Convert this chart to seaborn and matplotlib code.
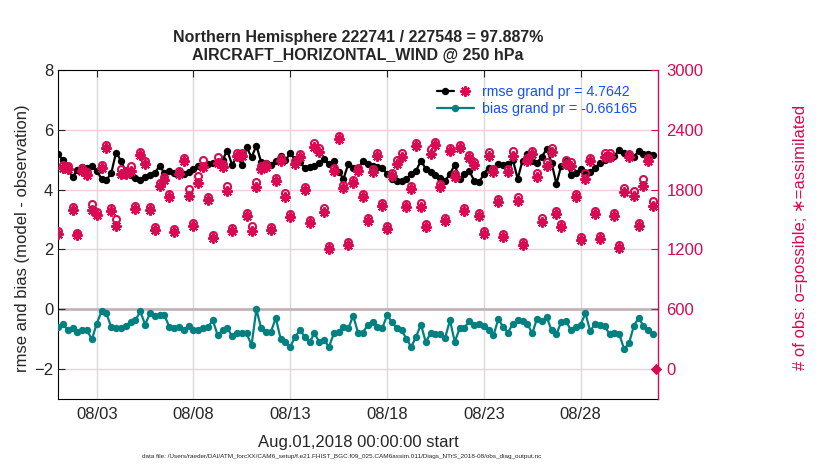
import numpy as np
import pandas as pd
import matplotlib
matplotlib.use('Agg')
import matplotlib.pyplot as plt
import matplotlib.dates as mdates
from matplotlib.lines import Line2D
from matplotlib.legend_handler import HandlerTuple
import seaborn as sns

# -----------------------
# Data (6-hourly bins, Aug 2018)
# -----------------------
start_time = '2018-08-01 00:00'
bin_freq = '6h'

rmse = [5.19, 4.99, 4.75, 4.41, 4.66, 4.75, 4.72, 4.80, 4.63, 4.36,
        4.32, 4.55, 5.24, 4.97, 4.60, 4.50, 4.39, 4.32, 4.43, 4.50,
        4.55, 4.80, 4.55, 4.62, 4.56, 4.60, 4.52, 4.60, 4.70, 4.80,
        4.80, 4.86, 4.88, 4.91, 5.00, 5.30, 4.82, 5.13, 4.83, 5.41,
        5.08, 5.47, 4.91, 4.90, 4.82, 4.97, 5.13, 4.99, 5.21, 5.02,
        4.91, 4.72, 4.76, 4.80, 4.90, 5.02, 4.86, 4.95, 4.60, 4.36,
        4.86, 4.74, 4.69, 4.97, 4.86, 4.80, 4.77, 4.74, 4.52, 4.36,
        4.30, 4.28, 4.36, 4.52, 4.63, 4.97, 4.70, 4.60, 4.50, 4.38,
        4.30, 4.52, 4.83, 4.36, 4.52, 4.63, 4.30, 4.24, 4.52, 4.74,
        4.63, 4.86, 4.83, 4.85, 5.00, 4.36, 4.97, 5.20, 4.95, 4.90,
        5.10, 5.36, 4.90, 4.19, 4.80, 4.95, 4.50, 4.55, 4.70, 4.55,
        4.60, 4.72, 4.90, 5.00, 5.06, 5.13, 5.34, 5.22, 5.16, 5.08,
        5.30, 5.20, 5.19, 5.17]

bias = [-0.59, -0.48, -0.70, -0.64, -0.76, -0.70, -0.70, -1.01, -0.48, -0.07,
        -0.14, -0.59, -0.64, -0.64, -0.56, -0.42, -0.37, -0.07, -0.51, -0.14,
        -0.22, -0.20, -0.20, -0.59, -0.64, -0.59, -0.70, -0.56, -0.70, -0.70,
        -0.62, -0.59, -0.37, -0.87, -0.70, -0.64, -0.90, -0.78, -0.81, -0.81,
        -1.20, 0.00, -0.64, -0.76, -0.76, -0.29, -0.98, -1.09, -1.26, -0.92,
        -0.70, -0.92, -1.09, -0.81, -1.09, -1.03, -1.26, -0.81, -0.76, -0.59,
        -0.64, -0.22, -0.78, -0.78, -0.53, -0.42, -0.59, -0.64, -0.20, -0.42,
        -0.64, -0.70, -0.98, -1.26, -0.92, -0.51, -1.09, -0.81, -0.84, -0.84,
        -0.96, -0.37, -1.09, -0.64, -0.62, -0.40, -0.53, -0.48, -0.56, -0.70,
        -0.87, -0.33, -0.59, -0.78, -0.48, -0.37, -0.40, -0.48, -0.81, -0.31,
        -0.40, -0.26, -0.70, -0.84, -0.42, -0.40, -0.70, -0.59, -0.51, -0.14,
        -0.73, -0.48, -0.53, -0.56, -0.84, -0.81, -0.84, -1.33, -1.14, -0.56,
        -0.29, -0.56, -0.70, -0.84]

n_assimilated = [1360, 2020, 2010, 1600, 1340, 1990, 1950, 1600, 1550, 2020,
                 2220, 1590, 1440, 1960, 1960, 1990, 1610, 2150, 2060, 1600,
                 1400, 1840, 1900, 1730, 1380, 1960, 2090, 1740, 1440, 1870,
                 2030, 1697, 1313, 2070, 2023, 1790, 1390, 2140, 2140, 1540,
                 1390, 1823, 2010, 2023, 1400, 1890, 2090, 1723, 1523, 2057,
                 2123, 1800, 1467, 2223, 2173, 1573, 1207, 1990, 2307, 1813,
                 1247, 1863, 1990, 1723, 1490, 1973, 2140, 1640, 1407, 1940,
                 2057, 2123, 1623, 1807, 2240, 1623, 1423, 2157, 2245, 1830,
                 1490, 2185, 1930, 2220, 1590, 2117, 2050, 1533, 1357, 2140,
                 1973, 1673, 1323, 1973, 2140, 1690, 1240, 2090, 2157, 1923,
                 1473, 2040, 2173, 1557, 1423, 2057, 2040, 1730, 1290, 1907,
                 2090, 1557, 1307, 2123, 2123, 1540, 1217, 1773, 2123, 1740,
                 1440, 1840, 2090, 1640]

n_possible = [1390, 2050, 2040, 1630, 1370, 2020, 1980, 1660, 1580, 2050,
              2250, 1620, 1510, 2010, 1990, 2040, 1640, 2180, 2090, 1630,
              1430, 1870, 1930, 1760, 1410, 1990, 2120, 1810, 1470, 1940,
              2100, 1727, 1343, 2130, 2053, 1840, 1420, 2170, 2170, 1570,
              1440, 1873, 2040, 2053, 1430, 1920, 2120, 1763, 1553, 2087,
              2153, 1830, 1497, 2263, 2213, 1613, 1237, 2020, 2337, 1843,
              1277, 1893, 2020, 1753, 1520, 2003, 2170, 1670, 1437, 1970,
              2097, 2163, 1653, 1837, 2270, 1663, 1453, 2207, 2275, 1860,
              1520, 2215, 1960, 2250, 1620, 2147, 2080, 1563, 1387, 2180,
              2003, 1703, 1353, 2003, 2190, 1730, 1270, 2120, 2187, 1963,
              1513, 2080, 2218, 1587, 1453, 2097, 2080, 1760, 1320, 1967,
              2120, 1587, 1337, 2163, 2163, 1570, 1247, 1813, 2153, 1790,
              1470, 1910, 2120, 1690]

# lone marker sitting on the right axis at zero obs
zero_time = ['2018-08-31 22:00']
zero_count = [0]

title_lines = ['Northern Hemisphere 222741 / 227548 = 97.887%',
               'AIRCRAFT_HORIZONTAL_WIND @ 250 hPa']
rmse_label = 'rmse grand pr = 4.7642'
bias_label = 'bias grand pr = -0.66165'
data_file = ('data file: /Users/raeder/DAI/ATM_forcXX/CAM6_setup/'
             'f.e21.FHIST_BGC.f09_025.CAM6assim.011/Diags_NTrS_2018-08/obs_diag_output.nc')

# -----------------------
# Plot
# -----------------------
MAG = '#d70a53'
TEAL = '#008080'
BLUE = '#1650f5'

df = pd.DataFrame({
    'time': pd.date_range(start_time, periods=len(rmse), freq=bin_freq),
    'rmse': rmse,
    'bias': bias,
    'assim': n_assimilated,
    'possible': n_possible,
})
df_zero = pd.DataFrame({'time': pd.to_datetime(zero_time), 'count': zero_count})

sns.set_style('white')
plt.rcParams['font.family'] = ['Liberation Sans', 'DejaVu Sans']
plt.rcParams['xtick.direction'] = 'in'
plt.rcParams['ytick.direction'] = 'in'

fig = plt.figure(figsize=(8.3, 4.7), dpi=100)
ax1 = fig.add_axes([58 / 830, 71 / 470, 600 / 830, 329 / 470])

# grid and zero line
for d in pd.date_range('2018-08-03', '2018-08-28', freq='5D'):
    ax1.axvline(d, color='#d9d9d9', lw=1, zorder=0)
for yv in [-2, 2, 4, 6]:
    ax1.axhline(yv, color='#f2cddb', lw=1, zorder=0)
ax1.axhline(0, color='#c4b3ba', lw=2, zorder=0)

sns.lineplot(data=df, x='time', y='rmse', ax=ax1, color='black', lw=1.6,
             marker='o', markersize=5.3, markeredgewidth=0, estimator=None, zorder=3)
sns.lineplot(data=df, x='time', y='bias', ax=ax1, color=TEAL, lw=1.6,
             marker='o', markersize=5.3, markeredgewidth=0, estimator=None, zorder=3)

ax1.set_xlim(pd.Timestamp('2018-08-01'), pd.Timestamp('2018-09-01'))
ax1.set_ylim(-3, 8)
ax1.set_yticks([-2, 0, 2, 4, 6, 8])
ax1.xaxis.set_major_locator(mdates.DayLocator(bymonthday=[3, 8, 13, 18, 23, 28]))
ax1.xaxis.set_major_formatter(mdates.DateFormatter('%m/%d'))
ax1.tick_params(axis='both', labelsize=12, length=5, width=0.8, top=True, right=False)
ax1.tick_params(axis='x', pad=6)
ax1.set_ylabel('rmse and bias (model - observation)', fontsize=12)
ax1.yaxis.set_label_coords(-0.047, 0.49)
ax1.set_xlabel('Aug.01,2018 00:00:00 start', fontsize=12)
ax1.xaxis.set_label_coords(0.5, -0.11)
for side in ['left', 'top', 'bottom']:
    ax1.spines[side].set_color('black')
    ax1.spines[side].set_linewidth(0.8)
ax1.spines['right'].set_visible(False)
ax1.set_title('\n'.join(title_lines), fontsize=11.5, fontweight='bold', pad=7,
              linespacing=1.25)

# obs counts on the right axis
ax2 = ax1.twinx()
sns.lineplot(data=df, x='time', y='possible', ax=ax2, estimator=None, linestyle='none',
             marker='o', markersize=5, markerfacecolor='none', markeredgecolor=MAG,
             markeredgewidth=1.5, color=MAG)
sns.lineplot(data=df, x='time', y='assim', ax=ax2, estimator=None, linestyle='none',
             marker=(8, 2, 0), markersize=7.5, markeredgecolor=MAG, markeredgewidth=1.5,
             color=MAG)
sns.lineplot(data=df_zero, x='time', y='count', ax=ax2, estimator=None, linestyle='none',
             marker='D', markersize=5, color=MAG, markeredgecolor=MAG, clip_on=False)
ax2.set_ylim(-300, 3000)
ax2.set_yticks(np.arange(0, 3001, 600))
ax2.tick_params(axis='y', colors=MAG, labelsize=12, length=5, width=0.8, pad=6)
ax2.set_ylabel('# of obs: o=possible; \u2217=assimilated', fontsize=12, color=MAG)
ax2.yaxis.set_label_coords(1.225, 0.49)
ax2.spines['right'].set_color(MAG)
ax2.spines['right'].set_linewidth(1.0)
ax2.spines['left'].set_visible(False)
ax2.spines['top'].set_visible(False)
ax2.spines['bottom'].set_visible(False)
ax2.set_xlabel('')
ax2.set_xlim(ax1.get_xlim())

# legend
h_rmse = (Line2D([], [], color='black', lw=1.6, marker='o', markersize=5.3, markeredgewidth=0),
          Line2D([], [], ls='none', marker=(8, 2, 0), markersize=7.5, color=MAG, mew=1.5))
h_bias = Line2D([], [], color=TEAL, lw=1.6, marker='o', markersize=5.3, markeredgewidth=0)
ax2.legend([h_rmse, h_bias], [rmse_label, bias_label],
           handler_map={tuple: HandlerTuple(ndivide=None)},
           loc='upper left', bbox_to_anchor=(0.615, 0.985), frameon=False,
           fontsize=10.2, labelcolor=BLUE, handlelength=2.6, handletextpad=0.6,
           labelspacing=0.25, borderpad=0.2)

fig.text(0.412, 0.028, data_file, fontsize=4.6, ha='center', va='center')

fig.savefig('out.png', dpi=100)
